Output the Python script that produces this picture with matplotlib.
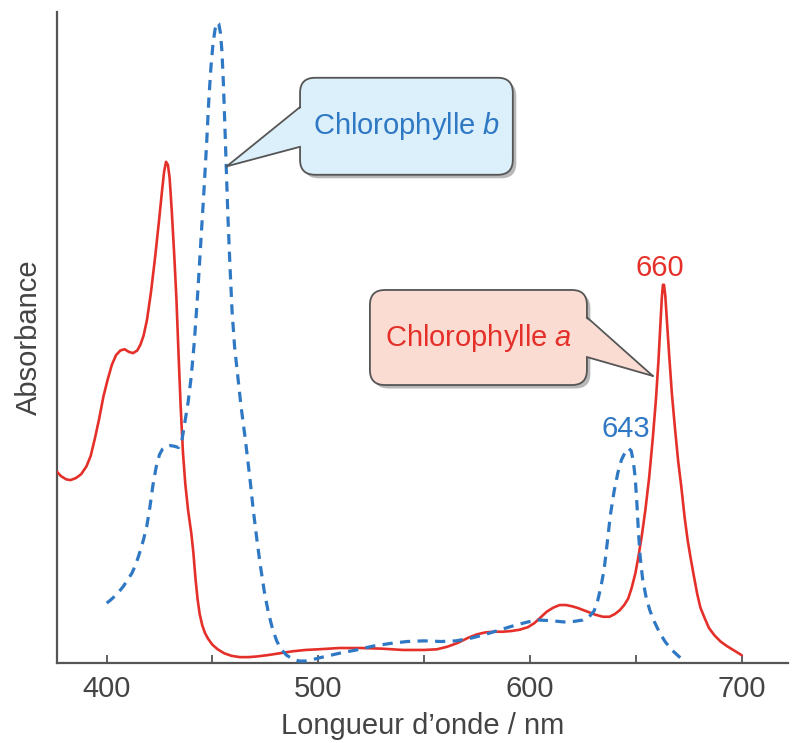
import matplotlib
matplotlib.use('Agg')
import matplotlib.pyplot as plt
from matplotlib.patches import FancyBboxPatch, Polygon
import matplotlib.patheffects as pe

plt.rcParams['font.family'] = ['Liberation Sans', 'DejaVu Sans']
plt.rcParams['mathtext.fontset'] = 'custom'
plt.rcParams['mathtext.rm'] = 'Liberation Sans'
plt.rcParams['mathtext.it'] = 'Liberation Sans:italic'

# Chlorophylle a (wavelength nm, absorbance arbitrary units)
chl_a_nm = [376.5, 378.5, 381, 383, 385.5, 388, 390.5, 392.5, 394.5, 396.5, 398.5, 400.5,
            402.5, 404.5, 406.5, 408.5, 410.5, 412.5, 414.5, 416, 417.5, 419.1, 421, 423,
            424.8, 426.2, 427.2, 428.1, 429, 429.8, 430.8, 432, 433, 434, 435, 436.1,
            437.2, 438.5, 440, 441, 442, 443, 444, 445.2, 446.5, 448, 450, 452.5, 455.5,
            459, 463, 467, 471, 476, 482, 488, 494, 500, 510, 520, 530, 540, 550, 556,
            561, 566, 571, 575, 579, 583, 587, 591, 595, 599, 602, 605, 608, 611, 614,
            617, 620, 623, 627, 631, 634.5, 637.5, 640, 642.4, 644.5, 646.4, 648, 649.8,
            651.3, 652.8, 654.5, 656.3, 658, 659.5, 660.7, 661.6, 662.3, 662.8, 663.3,
            663.9, 664.7, 665.7, 667, 668.5, 670, 671.5, 673, 674.5, 676, 677.5, 679,
            680.5, 682.5, 684.5, 687, 690, 693, 696.5, 700]
chl_a_abs = [29.4, 28.7, 28.2, 28.1, 28.4, 29.0, 30.2, 31.8, 34.5, 37.5, 40.9, 43.5,
             45.8, 47.3, 48.0, 48.2, 47.8, 47.6, 48.0, 48.9, 50.3, 52.7, 57.0, 62.5,
             68.0, 72.5, 75.5, 77.0, 76.5, 74.5, 69.5, 62.5, 56.0, 47.5, 39.5, 32.3,
             27.5, 23.5, 20.0, 17.0, 13.0, 9.8, 7.5, 5.8, 4.6, 3.7, 2.8, 2.1, 1.5,
             1.1, 0.9, 0.9, 1.0, 1.2, 1.5, 1.8, 2.0, 2.1, 2.3, 2.3, 2.2, 2.0, 2.0, 2.1,
             2.5, 3.1, 3.9, 4.4, 4.7, 4.8, 4.8, 4.9, 5.1, 5.5, 6.1, 7.0, 7.9, 8.5, 8.9,
             8.9, 8.7, 8.4, 7.9, 7.4, 7.1, 7.1, 7.5, 8.1, 8.9, 9.9, 11.5, 13.8,
             16.5, 19.5, 23.5, 28.5, 34.5, 40.5, 46.5, 52.0, 56.2, 58.1, 58.1,
             56.5, 52.5, 47.5, 41.5, 36.0, 31.0, 27.0, 22.5, 18.8, 15.9, 13.2, 10.6,
             8.5, 6.9, 5.4, 4.3, 3.3, 2.6, 1.9, 1.2]

# Chlorophylle b
chl_b_nm = [400.1, 402, 404, 406, 408, 410, 412, 414, 416, 417.5, 419, 420.5, 422, 423.5,
            425, 426.5, 428, 430, 432, 434, 435.5, 437, 438.5, 440, 441.5, 443, 444.5,
            446, 447.3, 448.3, 449.3, 450.3, 451.3, 452.2, 453, 453.8, 454.5, 455.2,
            455.9, 456.6, 457.4, 458.3, 459.3, 460.5, 462, 463.5, 465.5, 467.8, 469.3,
            471, 472.5, 474.5, 476.4, 478.5, 480.5, 482.5, 485, 488, 491, 494, 497,
            502, 510, 518, 526, 534, 542, 550, 558, 565, 572, 579, 586, 593, 599, 604,
            610, 616, 621, 625, 628, 630.3, 632, 633.5, 635, 636.5, 638, 639.8, 641.5,
            643.2, 645, 646.5, 647.8, 648.8, 649.7, 650.5, 651.2, 652, 653.2, 654.8,
            656.6, 658.8, 661.3, 664, 667, 670, 673.1]
chl_b_abs = [9.2, 9.7, 10.3, 11.0, 11.8, 12.8, 13.8, 15.3, 17.3, 19.0, 21.0, 24.0, 27.5, 30.2,
             32.0, 32.9, 33.3, 33.4, 33.3, 33.1, 34.0, 37.0, 40.0, 44.0, 49.5, 56.5, 64.5,
             72.5, 80.0, 86.5, 91.5, 95.2, 97.4, 98.4, 98.2, 96.8, 94.0, 89.0,
             82.5, 75.5, 68.0, 61.0, 54.0, 48.5, 44.0, 39.5, 34.5, 28.1, 23.5,
             19.0, 15.3, 11.0, 7.8, 5.1, 3.3, 2.1, 1.2, 0.6, 0.3, 0.3, 0.5,
             0.9, 1.5, 2.0, 2.6, 3.0, 3.3, 3.4, 3.3, 3.4, 3.8, 4.4, 5.1, 5.8, 6.3, 6.6,
             6.5, 6.3, 6.4, 6.6, 7.1, 8.0, 9.6, 11.7, 14.3, 18.5, 22.8, 26.5, 29.2,
             31.2, 32.4, 33.0, 32.6, 31.0, 28.5, 24.5, 20.3, 16.5, 12.9, 10.2,
             8.1, 6.3, 4.6, 3.2, 2.0, 1.1, 0.2]

tick_values = [400, 500, 600, 700]
minor_values = [450, 550, 650]

red = '#e5302a'
blue = '#2f78c4'
grey = '#555555'
txt_grey = '#444444'

fig = plt.figure(figsize=(7.95, 7.43), dpi=100)
ax = fig.add_axes([0.0717, 0.1077, 0.9193, 0.8761])

ax.plot(chl_a_nm, chl_a_abs, color=red, lw=1.9, zorder=3,
        solid_capstyle='round', solid_joinstyle='round')
ax.plot(chl_b_nm, chl_b_abs, color=blue, lw=2.3, linestyle=(0, (3.2, 2.3)), zorder=3,
        dash_joinstyle='round')

ax.set_xlim(376.6, 721.8)
ax.set_ylim(0, 100)

ax.spines['top'].set_visible(False)
ax.spines['right'].set_visible(False)
for s in ['left', 'bottom']:
    ax.spines[s].set_color(grey)
    ax.spines[s].set_linewidth(1.6)

ax.set_yticks([])
ax.set_xticks(tick_values)
ax.set_xticks(minor_values, minor=True)
ax.tick_params(axis='x', which='both', direction='in', length=6, width=1.3,
               color=grey, labelcolor=txt_grey, labelsize=21, pad=9)

ax.set_xlabel('Longueur d\u2019onde / nm', fontsize=21, color=txt_grey, labelpad=6)
ax.set_ylabel('Absorbance', fontsize=21, color=txt_grey, labelpad=10)

# callout boxes (data coordinates)
x_per_px = 1 / 2.118
y_per_px = 1 / 6.51
aspect = y_per_px / x_per_px
shadow = [pe.withSimplePatchShadow(offset=(2.5, -2.5), shadow_rgbFace='black', alpha=0.28)]


def callout(x0, x1, y0, y1, base, tip, fill, text, tcolor):
    box = FancyBboxPatch((x0, y0), x1 - x0, y1 - y0,
                         boxstyle='round,pad=0,rounding_size=%f' % (15 * x_per_px),
                         mutation_aspect=aspect, fc=fill, ec=grey, lw=1.3, zorder=5)
    box.set_path_effects(shadow)
    ax.add_patch(box)
    bx, by1, by2 = base
    inset = 2 * x_per_px if bx <= x0 + 1 else -2 * x_per_px
    tri = Polygon([(bx + inset, by1), (bx + inset, by2), tip], closed=True,
                  fc=fill, ec='none', zorder=6)
    ax.add_patch(tri)
    ax.plot([bx, tip[0]], [by1, tip[1]], color=grey, lw=1.3, zorder=7)
    ax.plot([bx, tip[0]], [by2, tip[1]], color=grey, lw=1.3, zorder=7)
    ax.text((x0 + x1) / 2, (y0 + y1) / 2, text, color=tcolor, fontsize=21,
            ha='center', va='center', zorder=8)


callout(491.4, 591.9, 75.0, 89.9, (491.4, 85.4, 79.3), (456.8, 76.3),
        '#dcf0fb', 'Chlorophylle $\\mathit{b}$', blue)
callout(524.4, 626.9, 42.7, 57.3, (626.9, 53.1, 47.0), (658.0, 44.1),
        '#fbdcd3', 'Chlorophylle $\\mathit{a}$', red)

ax.text(661.5, 59.4, '660', color=red, fontsize=21, ha='center', va='baseline')
ax.text(645.3, 34.7, '643', color=blue, fontsize=21, ha='center', va='baseline')

fig.savefig('out.png', dpi=100)
